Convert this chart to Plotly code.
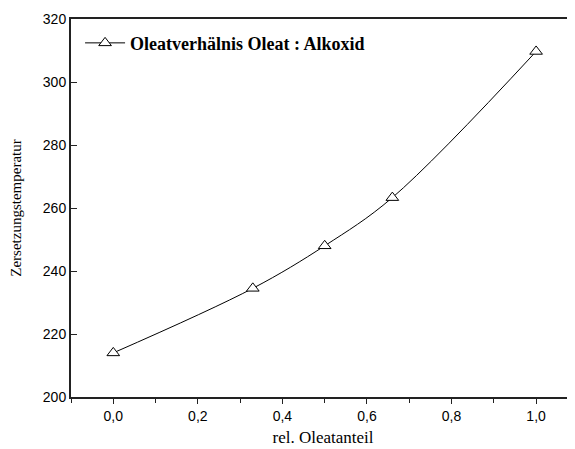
import plotly.graph_objects as go

x_vals = [0.0, 0.33, 0.5, 0.66, 1.0]
y_vals = [214, 234.5, 248, 263.3, 309.7]
x_ticks = [0.0, 0.2, 0.4, 0.6, 0.8, 1.0]
x_ticklabels = ["0,0", "0,2", "0,4", "0,6", "0,8", "1,0"]
y_ticks = [200, 220, 240, 260, 280, 300, 320]
series_name = "Oleatverhälnis Oleat : Alkoxid"

fig = go.Figure()
fig.add_trace(go.Scatter(
    x=x_vals, y=y_vals, mode="lines+markers", name=series_name,
    line=dict(color="black", width=1, shape="spline", smoothing=1.0),
    marker=dict(symbol="triangle-up", size=11, color="white",
                line=dict(color="black", width=1)),
))

SERIF = "Times New Roman"
SANS = "Arial"

fig.update_layout(
    width=567, height=441,
    margin=dict(l=63, r=0, t=11, b=52),
    paper_bgcolor="white", plot_bgcolor="white",
    showlegend=True,
    legend=dict(x=0.018, y=0.985, xanchor="left", yanchor="top",
                bgcolor="rgba(0,0,0,0)", borderwidth=0,
                font=dict(family=SERIF, size=18, color="black", weight="bold"),
                itemwidth=40),
    font=dict(family=SERIF, size=15, color="black"),
)
fig.update_xaxes(
    range=[-0.1, 1.092], tickvals=x_ticks, ticktext=x_ticklabels,
    showgrid=False, zeroline=False, showline=True, linecolor="#222", linewidth=2,
    mirror=True, ticks="outside", ticklen=5, tickwidth=1, tickcolor="#222",
    minor=dict(dtick=0.1, tick0=0, ticks="outside", ticklen=4, tickcolor="#222"),
    tickfont=dict(family=SANS, size=14),
    title=dict(text="rel. Oleatanteil", font=dict(family=SERIF, size=17), standoff=8),
)
fig.update_yaxes(
    range=[200, 320], tickvals=y_ticks,
    showgrid=False, zeroline=False, showline=True, linecolor="#222", linewidth=2,
    mirror=False, ticks="inside", ticklen=6, tickwidth=1, tickcolor="#222",
    tickfont=dict(family=SANS, size=14),
    title=dict(text="Zersetzungstemperatur", font=dict(family=SERIF, size=15), standoff=20),
)
fig.write_html("out.html")
